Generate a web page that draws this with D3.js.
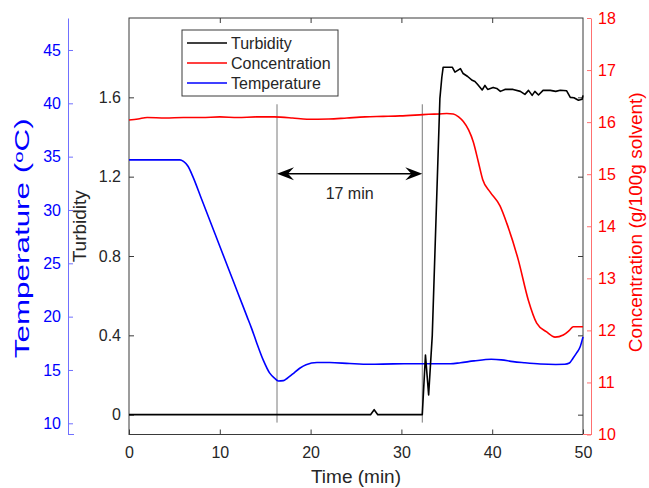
<!DOCTYPE html>
<html>
<head>
<meta charset="utf-8">
<script src="https://cdn.jsdelivr.net/npm/d3@7"></script>
<style>
  html, body { margin: 0; padding: 0; background: #fff; }
  svg { display: block; font-family: "Liberation Sans", Arial, sans-serif; }
</style>
</head>
<body>
<svg id="chart" width="649" height="488"></svg>
<script>
// ---------------- data ----------------
const timeTicks = [0, 10, 20, 30, 40, 50];
const turbTicks = [0, 0.4, 0.8, 1.2, 1.6];
const concTicks = [10, 11, 12, 13, 14, 15, 16, 17, 18];
const tempTicks = [10, 15, 20, 25, 30, 35, 40, 45];

const turbTime = [0, 26.6, 27.0, 27.4, 32.3, 32.65, 33.0, 33.4, 34.24, 34.45, 34.6, 35.6, 35.9, 36.5, 36.8, 37.3, 37.8, 38.1, 38.4, 38.9, 39.2, 39.5, 40.1, 40.5, 40.9, 41.4, 42.3, 43.1, 43.6, 44.0, 44.4, 44.7, 45.1, 45.6, 46.4, 47.0, 47.5, 48.2, 48.6, 49.0, 49.5, 49.9, 50];
const turbValue = [0, 0, 0.025, 0, 0, 0.30, 0.10, 0.40, 1.595, 1.70, 1.752, 1.752, 1.727, 1.745, 1.72, 1.705, 1.686, 1.68, 1.665, 1.637, 1.66, 1.64, 1.65, 1.645, 1.63, 1.64, 1.64, 1.63, 1.615, 1.635, 1.61, 1.63, 1.612, 1.635, 1.635, 1.63, 1.636, 1.633, 1.60, 1.598, 1.585, 1.59, 1.61];

const concTime = [0, 1, 2, 4, 6, 8, 10, 12, 14, 16, 18, 19.6, 22, 24, 26, 28, 29.85, 32, 33, 34.2, 35.0, 35.72, 36.3, 36.82, 37.4, 37.92, 38.47, 38.95, 39.76, 40.86, 41.6, 42.88, 43.98, 44.9, 46.0, 46.92, 47.83, 48.5, 48.93, 50];
const concValue = [16.04, 16.06, 16.09, 16.08, 16.09, 16.09, 16.10, 16.09, 16.10, 16.10, 16.08, 16.055, 16.06, 16.08, 16.10, 16.11, 16.12, 16.14, 16.15, 16.157, 16.165, 16.157, 16.10, 16.01, 15.85, 15.62, 15.24, 14.90, 14.66, 14.39, 14.06, 13.35, 12.58, 12.14, 11.97, 11.87, 11.91, 12.0, 12.07, 12.07];

const tempTime = [0, 5.6, 6.0, 6.5, 7.0, 8.0, 9.0, 10, 11, 12, 13, 13.5, 14.0, 14.8, 15.5, 16.0, 16.45, 17.0, 17.4, 18.0, 18.8, 19.5, 20.7, 22.1, 24.3, 26.5, 29.1, 32, 35.4, 36.5, 38.0, 39.9, 41.0, 42.3, 43.5, 45.3, 47.0, 48.0, 48.5, 48.9, 49.3, 49.7, 50];
const tempValue = [34.7, 34.7, 34.55, 34.1, 33.2, 31.0, 28.8, 26.6, 24.4, 22.2, 20.0, 18.9, 17.7, 15.9, 14.7, 14.25, 13.97, 14.0, 14.2, 14.6, 15.16, 15.5, 15.7, 15.7, 15.6, 15.53, 15.57, 15.58, 15.58, 15.68, 15.85, 16.0, 15.95, 15.78, 15.68, 15.56, 15.52, 15.53, 15.65, 16.1, 16.6, 17.2, 18.1];

const seriesNames = ["Turbidity", "Concentration", "Temperature"];
const markerTimes = [16.3, 32.3];
const markerSpan = [-0.04, 1.565];
const arrowLevel = 1.215;
const arrowLabel = "17 min";

// ---------------- layout ----------------
const L = 129, R = 583, T = 18, B = 434.5;
const svg = d3.select("#chart");

const x = d3.scaleLinear().domain([0, 50]).range([L, R]);
const yTurb = d3.scaleLinear().domain([-0.1, 2.0]).range([B, T]);
const yConc = d3.scaleLinear().domain([10, 18]).range([B, T]);
const yTemp = d3.scaleLinear().domain([8.95, 48]).range([B, T]);

const axisColor = "#262626";
const tickFont = 16;

function style(g, color, textColor) {
  g.selectAll("path.domain").attr("stroke", color);
  g.selectAll(".tick line").attr("stroke", color);
  g.selectAll(".tick text").attr("fill", textColor).attr("font-size", tickFont)
    .attr("font-family", '"Liberation Sans", Arial, sans-serif');
}

// box
svg.append("rect").attr("x", L).attr("y", T).attr("width", R - L).attr("height", B - T)
  .attr("fill", "none").attr("stroke", "#3a3a3a").attr("stroke-width", 1);

// bottom axis
const gx = svg.append("g").attr("transform", `translate(0,${B})`)
  .call(d3.axisBottom(x).tickValues(timeTicks).tickSizeInner(-5).tickSizeOuter(0).tickPadding(12).tickFormat(d3.format("d")));
gx.select("path.domain").remove();
style(gx, "#3a3a3a", axisColor);
// top mirrored ticks
const gxt = svg.append("g").attr("transform", `translate(0,${T})`)
  .call(d3.axisTop(x).tickValues(timeTicks.slice(1, -1)).tickSizeInner(-5).tickSizeOuter(0).tickFormat(""));
gxt.select("path.domain").remove();
style(gxt, "#3a3a3a", axisColor);

// left turbidity axis
const gy = svg.append("g").attr("transform", `translate(${L},0)`)
  .call(d3.axisLeft(yTurb).tickValues(turbTicks).tickSizeInner(-5).tickSizeOuter(0).tickPadding(8)
    .tickFormat(d => d === 0 ? "0" : d.toFixed(1)));
gy.select("path.domain").remove();
style(gy, "#3a3a3a", axisColor);
// right mirrored turbidity ticks
const gyr = svg.append("g").attr("transform", `translate(${R},0)`)
  .call(d3.axisRight(yTurb).tickValues(turbTicks).tickSizeInner(-5).tickSizeOuter(0).tickFormat(""));
gyr.select("path.domain").remove();
style(gyr, "#3a3a3a", axisColor);

// right concentration axis
const concX = 591;
const gc = svg.append("g").attr("transform", `translate(${concX},0)`)
  .call(d3.axisRight(yConc).tickValues(concTicks).tickSizeInner(-4).tickSizeOuter(0).tickPadding(7).tickFormat(d3.format("d")));
style(gc, "#ff7070", "#ff0000");
svg.append("line").attr("x1", R).attr("x2", concX).attr("y1", B).attr("y2", B).attr("stroke", "#ff7070");

// left temperature axis
const tempX = 68;
const gt = svg.append("g").attr("transform", `translate(${tempX},0)`)
  .call(d3.axisLeft(yTemp).tickValues(tempTicks).tickSizeInner(-5).tickSizeOuter(0).tickPadding(7).tickFormat(d3.format("d")));
style(gt, "#7070ff", "#0000ff");
svg.append("line").attr("x1", tempX).attr("x2", tempX + 6).attr("y1", B).attr("y2", B).attr("stroke", "#7070ff");

// axis titles
const titleFont = 19;
svg.append("text").attr("x", (L + R) / 2).attr("y", 483).attr("text-anchor", "middle")
  .attr("font-size", titleFont).attr("fill", axisColor).text("Time (min)");
svg.append("text").attr("transform", `translate(79,${(T + B) / 2}) rotate(-90)`).attr("text-anchor", "middle")
  .attr("dy", "0.35em").attr("font-size", titleFont).attr("fill", axisColor).text("Turbidity");
const tt = svg.append("text").attr("transform", `translate(22,${(T + B) / 2 + 12}) rotate(-90)`).attr("text-anchor", "middle")
  .attr("dy", "0.35em").attr("font-size", 20).attr("fill", "#0000ff")
  .attr("textLength", 240).attr("lengthAdjust", "spacingAndGlyphs");
tt.append("tspan").text("Temperature (");
tt.append("tspan").attr("dy", "-0.45em").attr("font-size", 13).text("o");
tt.append("tspan").attr("dy", "0.3em").text("C)");
svg.append("text").attr("transform", `translate(635,${(T + B) / 2 - 4}) rotate(-90)`).attr("text-anchor", "middle")
  .attr("dy", "0.35em").attr("font-size", titleFont).attr("fill", "#ff0000").text("Concentration (g/100g solvent)");

// annotation lines
markerTimes.forEach(t => {
  svg.append("line").attr("x1", x(t)).attr("x2", x(t)).attr("y1", yTurb(markerSpan[0])).attr("y2", yTurb(markerSpan[1]))
    .attr("stroke", "#7a7a7a").attr("stroke-width", 1);
});

// curves
const lineTurb = d3.line().x((d, i) => x(turbTime[i])).y(d => yTurb(d));
const lineConc = d3.line().x((d, i) => x(concTime[i])).y(d => yConc(d)).curve(d3.curveMonotoneX);
const lineTemp = d3.line().x((d, i) => x(tempTime[i])).y(d => yTemp(d)).curve(d3.curveMonotoneX);

svg.append("path").attr("d", lineConc(concValue)).attr("fill", "none").attr("stroke", "#ff0000").attr("stroke-width", 1.6);
svg.append("path").attr("d", lineTemp(tempValue)).attr("fill", "none").attr("stroke", "#0000ff").attr("stroke-width", 1.6);
svg.append("path").attr("d", lineTurb(turbValue)).attr("fill", "none").attr("stroke", "#000000").attr("stroke-width", 1.6)
  .attr("stroke-linejoin", "round");

// arrow
const ax1 = x(markerTimes[0]), ax2 = x(markerTimes[1]), ay = yTurb(arrowLevel);
svg.append("line").attr("x1", ax1 + 4).attr("x2", ax2 - 4).attr("y1", ay).attr("y2", ay).attr("stroke", "#000").attr("stroke-width", 1.5);
function head(tipX, dir) {
  const p = d3.path();
  p.moveTo(tipX, ay);
  p.lineTo(tipX + dir * 17, ay - 6.5);
  p.lineTo(tipX + dir * 11, ay);
  p.lineTo(tipX + dir * 17, ay + 6.5);
  p.closePath();
  svg.append("path").attr("d", p.toString()).attr("fill", "#000");
}
head(ax1, 1);
head(ax2, -1);
svg.append("text").attr("x", (ax1 + ax2) / 2).attr("y", ay + 20).attr("dy", "0.35em").attr("text-anchor", "middle")
  .attr("font-size", 16).attr("fill", axisColor).text(arrowLabel);

// legend
const legColors = ["#000000", "#ff0000", "#0000ff"];
const lg = svg.append("g");
lg.append("rect").attr("x", 182).attr("y", 30).attr("width", 156).attr("height", 66)
  .attr("fill", "#fff").attr("stroke", "#3a3a3a");
seriesNames.forEach((n, i) => {
  const yy = 43 + i * 20;
  lg.append("line").attr("x1", 187).attr("x2", 227).attr("y1", yy).attr("y2", yy)
    .attr("stroke", legColors[i]).attr("stroke-width", 1.6);
  lg.append("text").attr("x", 231).attr("y", yy).attr("dy", "0.35em").attr("font-size", 16)
    .attr("fill", axisColor).text(n);
});
</script>
</body>
</html>
